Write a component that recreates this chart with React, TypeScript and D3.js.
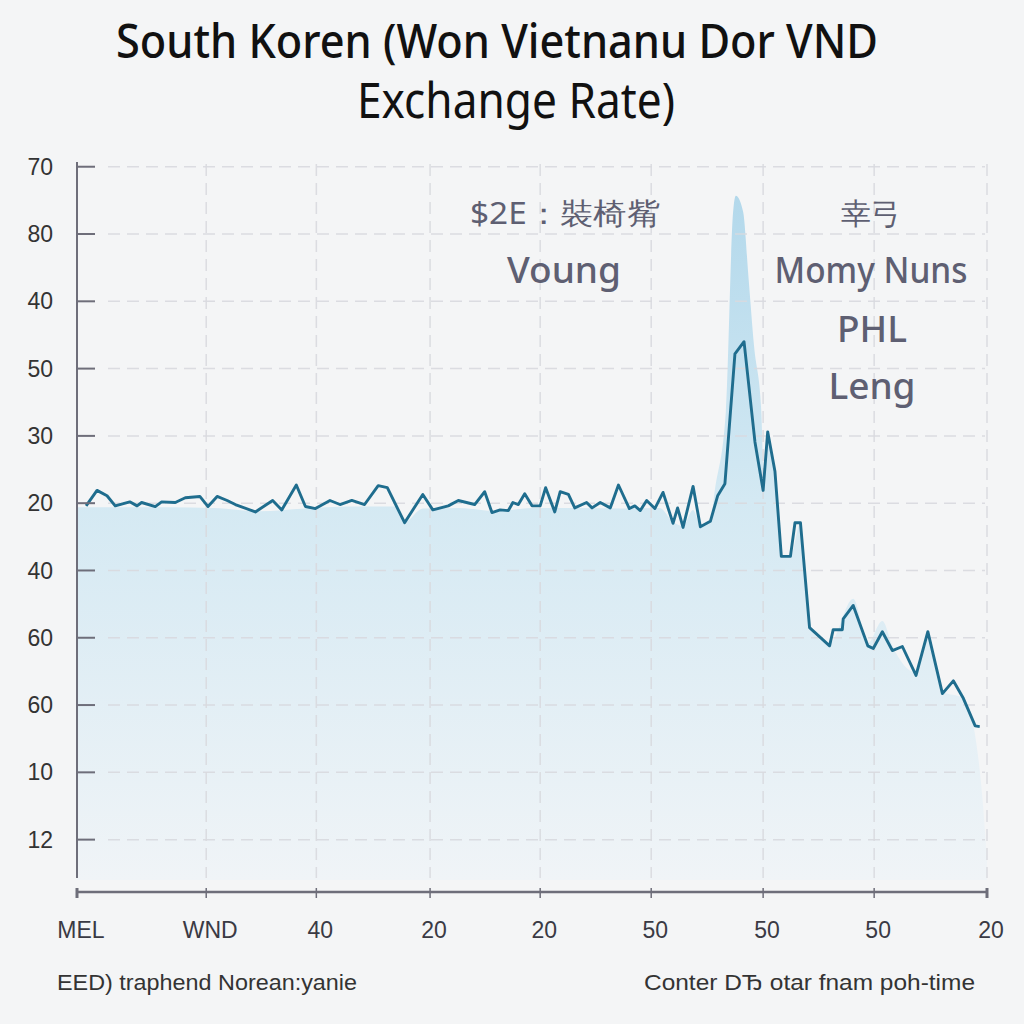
import React from 'react';
import * as d3 from 'd3';

const titleLines = ['South Koren (Won Vietnanu Dor VND', 'Exchange Rate)'];
const yTickLabels = ['70', '80', '40', '50', '30', '20', '40', '60', '60', '10', '12'];
const yTickValues = [10, 9, 8, 7, 6, 5, 4, 3, 2, 1, 0];
const xTickLabels = ['MEL', 'WND', '40', '20', '20', '50', '50', '50', '20'];
const xTickValues = [0, 14.2, 26.3, 38.8, 50.9, 63.1, 75.4, 87.6, 100];

const lineX = [1.0, 2.2, 3.3, 4.2, 5.8, 6.6, 7.1, 8.6, 9.3, 10.8, 11.9, 13.5, 14.4, 15.4, 16.5, 17.4, 19.6, 21.5, 22.5, 24.1, 25.1, 26.2, 27.8, 28.9, 30.2, 31.6, 33.1, 34.1, 36.0, 38.0, 39.1, 40.8, 41.9, 43.7, 44.8, 45.6, 46.5, 47.4, 47.9, 48.5, 49.2, 50.0, 50.9, 51.5, 52.5, 53.1, 54.0, 54.7, 56.0, 56.6, 57.5, 58.6, 59.5, 60.7, 61.3, 61.9, 62.6, 63.5, 64.4, 65.5, 66.0, 66.6, 67.7, 68.5, 69.6, 70.4, 71.2, 72.3, 73.3, 74.5, 75.4, 75.9, 76.7, 77.4, 78.4, 78.9, 79.5, 80.5, 82.7, 83.1, 84.1, 84.2, 85.3, 86.9, 87.5, 88.5, 89.6, 90.7, 92.2, 93.5, 95.1, 96.3, 97.4, 98.7, 99.2];
const lineY = [4.96, 5.19, 5.11, 4.96, 5.02, 4.96, 5.01, 4.95, 5.02, 5.01, 5.08, 5.1, 4.95, 5.1, 5.04, 4.98, 4.87, 5.04, 4.9, 5.27, 4.95, 4.92, 5.04, 4.98, 5.04, 4.98, 5.26, 5.23, 4.71, 5.13, 4.9, 4.96, 5.04, 4.98, 5.17, 4.86, 4.9, 4.89, 5.01, 4.98, 5.14, 4.96, 4.96, 5.23, 4.87, 5.17, 5.13, 4.93, 5.01, 4.93, 5.01, 4.93, 5.27, 4.92, 4.96, 4.89, 5.04, 4.92, 5.16, 4.7, 4.93, 4.64, 5.25, 4.65, 4.73, 5.11, 5.29, 7.22, 7.4, 5.91, 5.19, 6.06, 5.47, 4.21, 4.21, 4.71, 4.71, 3.15, 2.88, 3.12, 3.12, 3.28, 3.48, 2.88, 2.84, 3.09, 2.81, 2.87, 2.44, 3.09, 2.17, 2.36, 2.1, 1.69, 1.68];

const areaX = [0, 5, 10, 15, 20, 25, 30, 35, 36, 38, 42, 46, 50, 55, 60, 64, 65.5, 66.6, 67.7, 68.5, 69.6, 70.1, 71.3, 72.1, 72.4, 73.2, 73.8, 74.4, 75.2, 75.5, 75.9, 76.7, 77.4, 78.4, 79.5, 80.5, 82.7, 85.3, 86.9, 88.5, 89.6, 92.2, 93.5, 95.1, 97.4, 98.5, 99.5, 100];
const areaY = [4.94, 4.94, 4.94, 4.93, 4.88, 4.92, 4.95, 4.95, 4.72, 4.92, 4.93, 4.88, 4.93, 4.93, 4.92, 4.93, 4.72, 4.66, 4.9, 4.67, 4.73, 5.2, 6.36, 9.33, 9.57, 9.33, 8.34, 7.34, 6.36, 5.3, 5.9, 5.4, 4.22, 4.2, 4.7, 3.15, 2.92, 3.58, 2.92, 3.25, 2.88, 2.48, 3.05, 2.2, 2.1, 1.7, 0.61, -0.3];

const annotLeft = ['$2E：裝椅觜', 'Voung'];
const annotRight = ['幸弓', 'Momy Nuns', 'PHL', 'Leng'];
const footerLeft = 'EED) traphend Norean:yanie';
const footerRight = 'Conter DЂ otar fnam poh-time';

export default function App() {
  const W = 1024;
  const H = 1024;
  const x = d3.scaleLinear().domain([0, 100]).range([77, 987]);
  const y = d3.scaleLinear().domain([-0.6, 10.1]).range([880, 160]);

  const linePts: [number, number][] = lineX.map((v, i) => [v, lineY[i]]);
  const areaPts: [number, number][] = areaX.map((v, i) => [v, areaY[i]]);

  const lineGen = d3.line<[number, number]>().x(d => x(d[0])).y(d => y(d[1])).curve(d3.curveLinear);
  const areaGen = d3.area<[number, number]>().x(d => x(d[0])).y0(y(-0.6)).y1(d => y(d[1])).curve(d3.curveMonotoneX);

  const gridColor = '#d9dadf';
  const axisColor = '#6e6e7a';
  const annotColor = '#5e5f72';
  const annotFont = '"Noto Sans", "Open Sans", sans-serif';
  const titleFont = '"Noto Sans", "Open Sans", sans-serif';

  return (
    <svg width={W} height={H} style={{ position: 'absolute', left: 0, top: 0 }} xmlns="http://www.w3.org/2000/svg">
      <defs>
        <linearGradient id="areaGrad" gradientUnits="userSpaceOnUse" x1={0} y1={190} x2={0} y2={880}>
          <stop offset="0" stopColor="#b2d8eb" />
          <stop offset="0.45" stopColor="#d4e9f3" />
          <stop offset="1" stopColor="#f0f4f7" />
        </linearGradient>
      </defs>
      <rect x={0} y={0} width={W} height={H} fill="#f4f5f6" />

      {/* title */}
      <text x={497} y={58} textAnchor="middle" fontFamily={titleFont} fontSize={48} fontWeight={500} fill="#111" textLength={762} lengthAdjust="spacingAndGlyphs">{titleLines[0]}</text>
      <text x={516} y={118} textAnchor="middle" fontFamily={titleFont} fontSize={49} fontWeight={400} fill="#111" textLength={318} lengthAdjust="spacingAndGlyphs">{titleLines[1]}</text>

      {/* area */}
      <path d={areaGen(areaPts) || ''} fill="url(#areaGrad)" />

      {/* grid */}
      {yTickValues.map((v, i) => (
        <line key={'hg' + i} x1={108} x2={985} y1={y(v)} y2={y(v)} stroke={gridColor} strokeWidth={1.5} strokeDasharray="12 7" opacity={0.9} />
      ))}
      {xTickValues.slice(1).map((v, i) => (
        <line key={'vg' + i} x1={x(v)} x2={x(v)} y1={164} y2={878} stroke={gridColor} strokeWidth={1.5} strokeDasharray="12 7" opacity={0.9} />
      ))}

      {/* line */}
      <path d={lineGen(linePts) || ''} fill="none" stroke="#1f6d8e" strokeWidth={2.9} strokeLinejoin="round" />

      {/* left axis */}
      <line x1={77} x2={77} y1={162} y2={878} stroke={axisColor} strokeWidth={2} />
      {yTickValues.map((v, i) => (
        <g key={'yt' + i}>
          <line x1={77} x2={95} y1={y(v)} y2={y(v)} stroke={axisColor} strokeWidth={2} />
          <text x={53} y={y(v)} dy="0.35em" textAnchor="end" fontFamily='"Liberation Sans", Arial, sans-serif' fontSize={23} fill="#333">{yTickLabels[i]}</text>
        </g>
      ))}

      {/* bottom axis */}
      <line x1={x(0)} x2={x(100)} y1={892} y2={892} stroke={axisColor} strokeWidth={2.5} />
      {xTickValues.map((v, i) => (
        <g key={'xt' + i}>
          <line x1={x(v)} x2={x(v)} y1={888} y2={898} stroke={axisColor} strokeWidth={i === 0 || i === xTickValues.length - 1 ? 3 : 1.5} />
          <text x={x(v) + 4} y={938} textAnchor="middle" fontFamily='"Liberation Sans", Arial, sans-serif' fontSize={23} fill="#3a3a44">{xTickLabels[i]}</text>
        </g>
      ))}

      {/* annotations */}
      <text x={565} y={224} textAnchor="middle" fontFamily={annotFont} fontSize={30} fill={annotColor} textLength={190} lengthAdjust="spacingAndGlyphs">{annotLeft[0]}</text>
      <text x={564} y={283} textAnchor="middle" fontFamily={annotFont} fontSize={37} fontWeight={500} fill={annotColor}>{annotLeft[1]}</text>
      <text x={871} y={224} textAnchor="middle" fontFamily={annotFont} fontSize={30} fill={annotColor}>{annotRight[0]}</text>
      <text x={871} y={283} textAnchor="middle" fontFamily={annotFont} fontSize={37} fontWeight={500} fill={annotColor} textLength={193} lengthAdjust="spacingAndGlyphs">{annotRight[1]}</text>
      <text x={872} y={342} textAnchor="middle" fontFamily={annotFont} fontSize={37} fontWeight={500} fill={annotColor}>{annotRight[2]}</text>
      <text x={872} y={399} textAnchor="middle" fontFamily={annotFont} fontSize={37} fontWeight={500} fill={annotColor}>{annotRight[3]}</text>

      {/* footer */}
      <text x={57} y={990} fontFamily='"Liberation Sans", Arial, sans-serif' fontSize={22} fill="#333" textLength={300} lengthAdjust="spacingAndGlyphs">{footerLeft}</text>
      <text x={975} y={990} textAnchor="end" fontFamily='"Liberation Sans", Arial, sans-serif' fontSize={22} fill="#333" textLength={331} lengthAdjust="spacingAndGlyphs">{footerRight}</text>
    </svg>
  );
}
